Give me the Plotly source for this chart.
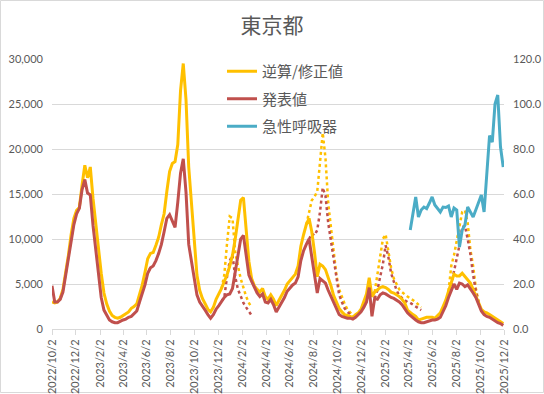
import plotly.graph_objects as go
import pandas as pd

# ---------------- data (weekly, starting 2022/10/2) ----------------
START_DATE = "2022-10-02"

# 逆算/修正値 (thousands of cases)
revised = [3.0, 2.9, 3.0, 3.4, 4.4, 6.2, 8.2, 10.5, 12.3, 13.2, 13.5, 16.0, 18.2, 16.8, 18.0, 14.5, 11.5, 8.8, 6.2, 4.0,
           2.8, 2.0, 1.5, 1.3, 1.2, 1.3, 1.5, 1.7, 1.9, 2.3, 2.5, 2.8, 3.8, 4.9, 6.3, 7.8, 8.4, 8.5, 9.3, 10.2,
           11.6, 12.8, 15.3, 17.5, 18.4, 18.6, 20.5, 26.5, 29.5, 25.5, 18.0, 14.0, 10.2, 6.0, 4.3, 3.4, 2.8, 2.2, 1.9, 2.4,
           3.3, 3.9, 4.5, 5.3, 6.0, 7.0, 8.2, 10.0, 12.3, 14.3, 14.6, 11.0, 7.5, 5.6, 4.8, 4.4, 4.1, 4.5, 3.6, 3.3,
           3.8, 3.3, 2.6, 3.2, 3.7, 4.3, 5.0, 5.4, 5.8, 6.1, 7.0, 9.2, 10.5, 11.6, 12.3, 10.8, 8.5, 5.8, 7.2, 7.0,
           6.6, 5.8, 4.8, 3.7, 2.9, 2.3, 1.9, 1.6, 1.5, 1.4, 1.3, 1.6, 1.8, 2.2, 3.0, 3.9, 5.7, 3.6, 4.1, 4.3,
           4.6, 4.7, 4.6, 4.4, 4.1, 4.0, 3.8, 3.6, 3.3, 2.9, 2.1, 1.8, 1.6, 1.4, 1.0, 1.1, 1.2, 1.3, 1.3, 1.3,
           1.2, 1.5, 1.8, 2.5, 3.2, 4.2, 5.1, 6.1, 5.9, 5.9, 6.2, 5.8, 5.5, 5.1, 4.4, 3.6, 2.8, 2.2, 1.9, 1.8,
           1.6, 1.4, 1.2, 1.0, 0.8, 0.6]

# 発表値 (thousands of cases)
reported = [4.8, 3.0, 3.0, 3.3, 4.1, 6.0, 8.0, 9.9, 11.6, 12.8, 13.4, 15.5, 16.6, 15.1, 14.9, 11.5, 8.8, 5.5, 3.5, 2.1,
            1.5, 1.0, 0.8, 0.7, 0.7, 0.9, 1.0, 1.1, 1.3, 1.4, 1.7, 2.0, 3.0, 4.0, 4.9, 6.2, 6.8, 7.0, 7.6, 8.4,
            9.4, 10.8, 12.3, 12.7, 12.0, 11.3, 14.1, 17.3, 18.9, 15.2, 9.4, 7.5, 6.0, 3.8, 3.0, 2.6, 2.1, 1.6, 1.2, 1.6,
            2.2, 2.6, 3.1, 3.5, 3.8, 3.9, 4.5, 6.5, 8.3, 10.0, 10.4, 8.0, 6.0, 5.3, 4.6, 4.0, 3.6, 3.9, 3.0, 2.9,
            3.3, 2.7, 1.9, 2.4, 2.9, 3.5, 4.2, 4.6, 4.9, 5.1, 5.8, 7.6, 8.7, 9.4, 10.0, 8.0, 6.2, 4.0, 5.6, 5.4,
            5.1, 4.3, 3.6, 2.8, 2.1, 1.6, 1.4, 1.3, 1.2, 1.2, 1.1, 1.3, 1.6, 1.9, 2.4, 3.0, 4.6, 1.4, 3.4, 3.3,
            3.8, 4.0, 3.9, 3.7, 3.5, 3.4, 3.2, 3.0, 2.7, 2.2, 1.8, 1.5, 1.2, 1.0, 0.8, 0.7, 0.7, 0.8, 0.9, 1.0,
            1.0, 1.1, 1.3, 1.9, 2.6, 3.5, 4.3, 5.0, 4.4, 5.1, 5.0, 4.7, 4.9, 4.5, 4.0, 3.5, 2.7, 2.0, 1.6, 1.4,
            1.3, 1.1, 0.9, 0.7, 0.6, 0.4]

# dotted 逆算/修正値 segments: (start week index, values in thousands)
revised_dotted_segments = [
    (3, [3.3, 4.3, 6.3, 8.3, 10.2, 11.8, 13.0, 13.6, 15.6, 16.8]),
    (31, [2.0, 3.1, 4.1, 5.0, 6.3, 6.8]),
    (62, [4.5, 6.0, 9.5, 12.5, 12.3, 8.5, 7.0, 5.6, 4.6, 3.6, 2.9, 2.4]),
    (93, [11.6, 13.0, 14.3, 14.7, 15.3, 18.5, 21.8, 19.0, 14.0, 11.3, 8.7, 6.0, 4.4, 3.5, 2.8, 2.2, 1.8, 1.5, 1.3]),
    (118, [4.1, 6.0, 8.0, 10.0, 10.5, 8.8, 6.8, 5.6, 4.9, 4.4, 4.1, 3.8, 3.6, 3.4, 3.2, 3.0, 2.7, 2.4]),
    (145, [4.2, 7.0, 8.2, 9.8, 11.5, 13.0, 13.2, 11.8, 8.8, 7.0, 4.5, 3.0]),
]

# dotted 発表値 segments
reported_dotted_segments = [
    (62, [3.1, 3.5, 5.8, 7.6, 8.2, 5.8, 4.4, 3.6, 2.9, 2.4, 1.9, 1.5]),
    (94, [10.0, 10.6, 10.4, 11.0, 13.0, 15.7, 14.8, 11.8, 9.8, 7.8, 5.5, 3.8, 3.0, 2.3, 1.9, 1.6, 1.4, 1.2]),
    (118, [3.4, 4.3, 5.8, 7.2, 9.3, 8.0, 6.2, 5.1, 4.3, 3.7, 3.4, 3.2, 3.0, 2.9, 2.7, 2.5, 2.3, 2.1]),
    (145, [3.5, 5.0, 6.2, 7.8, 9.3, 11.3, 11.5, 10.0, 8.3, 6.0, 4.2, 3.0]),
]

# 急性呼吸器 (right axis), starts at week index 131
ari_start = 131
ari = [44.0, 51.0, 58.7, 49.8, 52.9, 54.2, 53.5, 56.0, 58.7, 55.1, 53.5, 52.0, 54.2, 54.0, 54.7, 49.8, 53.8, 52.9,
       36.4, 44.0, 46.2, 54.2, 52.0, 49.8, 53.0, 56.4, 59.6, 52.0, 70.0, 86.0, 83.0, 100.0, 104.0, 81.0, 72.0]

tick_labels = ["2022/10/2", "2022/12/2", "2023/2/2", "2023/4/2", "2023/6/2", "2023/8/2", "2023/10/2",
               "2023/12/2", "2024/2/2", "2024/4/2", "2024/6/2", "2024/8/2", "2024/10/2", "2024/12/2",
               "2025/2/2", "2025/4/2", "2025/6/2", "2025/8/2", "2025/10/2", "2025/12/2"]

# ---------------- build ----------------
n = len(revised)
dates = pd.date_range(START_DATE, periods=n, freq="7D")
tick_dates = pd.to_datetime(tick_labels, format="%Y/%m/%d")


def padded(start, vals):
    out = [None] * n
    for i, v in enumerate(vals):
        out[start + i] = v * 1000
    return out


YEL = "#FFC000"
RED = "#C0504D"
BLU = "#4BACC6"
GRID = "#D9D9D9"
TXT = "#595959"
FONT = "Lato, Noto Sans CJK JP, sans-serif"
JFONT = "Noto Sans CJK JP, sans-serif"

fig = go.Figure()

for s, vals in revised_dotted_segments:
    fig.add_trace(go.Scatter(x=dates, y=padded(s, vals), mode="lines", showlegend=False,
                             line=dict(color=YEL, width=2.5, dash="dot"), connectgaps=False, hoverinfo="skip"))
for s, vals in reported_dotted_segments:
    fig.add_trace(go.Scatter(x=dates, y=padded(s, vals), mode="lines", showlegend=False,
                             line=dict(color=RED, width=2.5, dash="dot"), connectgaps=False, hoverinfo="skip"))

fig.add_trace(go.Scatter(x=dates, y=[v * 1000 for v in revised], mode="lines", name="逆算/修正値",
                         legendgroup="a", line=dict(color=YEL, width=3)))
fig.add_trace(go.Scatter(x=dates, y=[v * 1000 for v in reported], mode="lines", name="発表値",
                         legendgroup="b", line=dict(color=RED, width=3)))
ari_full = [None] * ari_start + ari
fig.add_trace(go.Scatter(x=dates, y=ari_full, mode="lines", name="急性呼吸器", yaxis="y2",
                         legendgroup="c", line=dict(color=BLU, width=3)))

W, H = 544, 394
ML, MR, MT, MB = 52, 40, 59, 65
pw, ph = W - ML - MR, H - MT - MB

fig.update_layout(
    width=W, height=H,
    margin=dict(l=ML, r=MR, t=MT, b=MB, autoexpand=False),
    paper_bgcolor="white", plot_bgcolor="white",
    font=dict(family=FONT, color=TXT, size=11),
    title=dict(text="東京都", x=0.5, xref="container", xanchor="center", y=1 - 26 / H, yanchor="middle",
               font=dict(family=JFONT, size=21, color=TXT)),
    legend=dict(x=(222 - ML) / pw, y=1.0 + 4 / ph, xanchor="left", yanchor="top", bgcolor="rgba(0,0,0,0)",
                font=dict(family=JFONT, size=15, color=TXT), tracegroupgap=5, itemwidth=30),
    xaxis=dict(type="date", range=[dates[0], tick_dates[-1]], tickvals=tick_dates, ticktext=tick_labels,
               tickangle=-90, showgrid=False, showline=True, linecolor=GRID, linewidth=1, automargin=False,
               ticks="outside", ticklen=5, tickcolor=GRID, tickfont=dict(size=11, color=TXT)),
    yaxis=dict(range=[0, 30000], dtick=5000, tickformat=",", showgrid=True, gridcolor=GRID, gridwidth=1,
               zeroline=False, showline=False, ticks="", ticklabelstandoff=8, automargin=False,
               tickfont=dict(size=11, color=TXT)),
    yaxis2=dict(range=[0, 120], dtick=20, tickformat=".1f", overlaying="y", side="right", showgrid=False,
                zeroline=False, showline=False, ticks="", ticklabelstandoff=8, automargin=False,
                tickfont=dict(size=11, color=TXT)),
)

# chart-area border
fig.add_shape(type="rect", xref="paper", yref="paper",
              x0=(0.5 - ML) / pw, x1=(W - 0.5 - ML) / pw,
              y0=-(MB - 1.5) / ph, y1=1 + (MT - 0.5) / ph,
              line=dict(color=GRID, width=1), fillcolor="rgba(0,0,0,0)", layer="below")

fig.write_html("out.html", config={"displayModeBar": False},
               post_script="document.body.style.margin='0';document.body.style.padding='0';")
